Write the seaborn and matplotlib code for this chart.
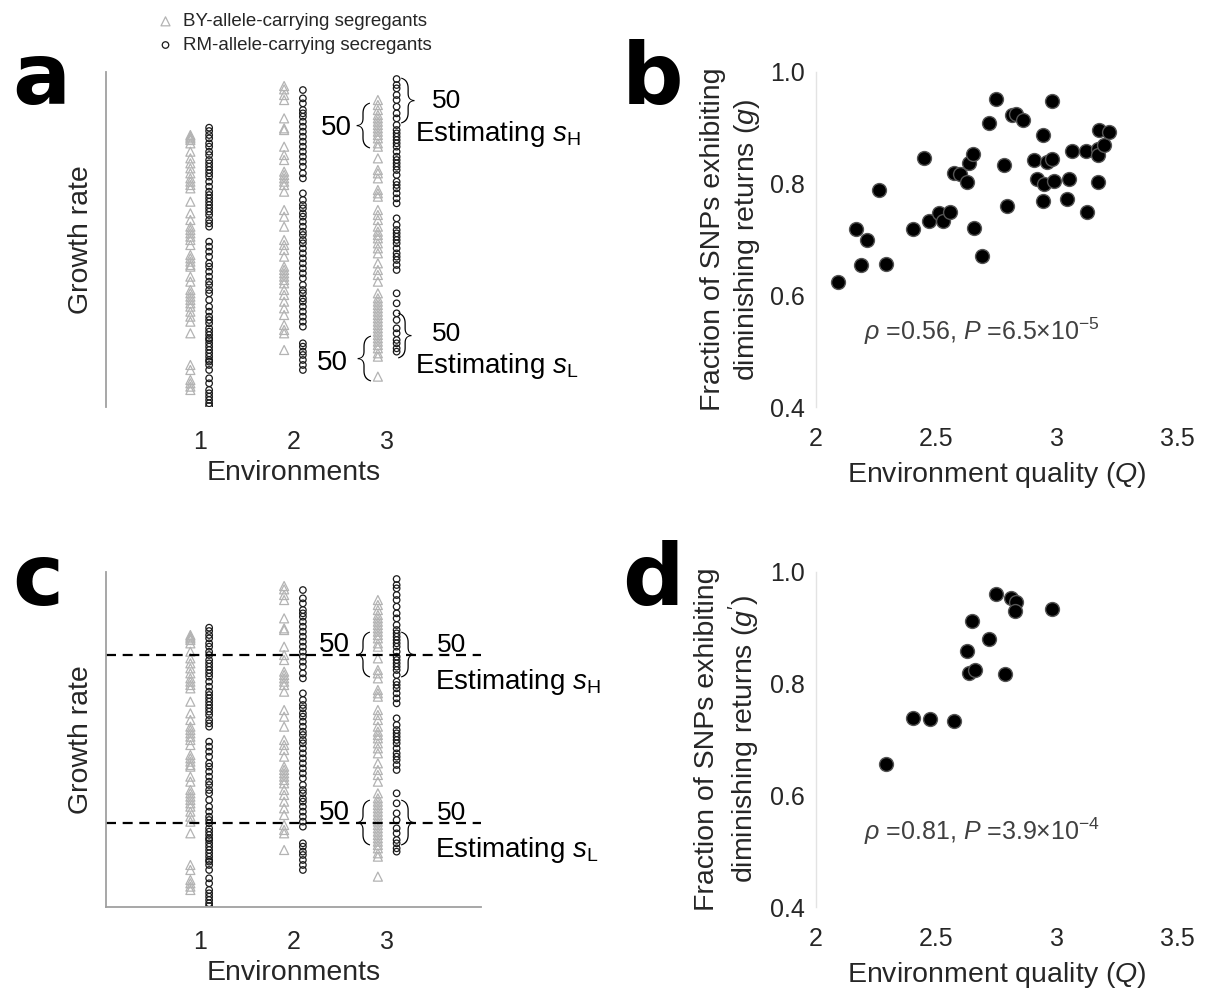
import numpy as np
import pandas as pd
import matplotlib
matplotlib.use("Agg")
import matplotlib.pyplot as plt
import seaborn as sns

sns.set_style("white")
plt.rcParams["font.family"] = ["Liberation Sans", "DejaVu Sans"]
plt.rcParams["mathtext.fontset"] = "custom"
plt.rcParams["mathtext.rm"] = "Liberation Sans"
plt.rcParams["mathtext.it"] = "Liberation Sans:italic"

# ---------------- growth rates of segregants (arbitrary units) ----------------
env1_by = [81.7, 81.2, 80.7, 80.2, 79.2, 76.7, 74.7, 73.2, 71.7, 70.2, 68.7, 67.7, 66.7,
           65.7, 61.7, 58.2, 56.2, 54.2, 53.2, 52.2, 51.2, 50.2, 48.7, 45.7, 44.7, 43.7,
           42.7, 42.2, 39.2, 37.7, 35.2, 34.2, 33.2, 32.2, 31.2, 30.2, 28.7, 27.2, 25.7,
           22.2, 12.7, 11.2, 8.2, 7.2, 6.2, 5.2]
env1_rm = [83.9, 82.9, 81.7, 80.7, 79.2, 78.2, 76.7, 75.7, 74.2, 73.2, 72.2, 71.2, 70.2,
           69.2, 67.7, 66.2, 64.7, 63.7, 62.7, 61.7, 60.7, 59.7, 58.7, 57.7, 56.2, 55.2,
           54.2, 49.7, 48.2, 46.7, 45.2, 43.2, 42.2, 40.7, 39.2, 37.7, 36.7, 35.2, 34.2,
           32.2, 30.2, 28.7, 27.2, 26.2, 25.2, 23.7, 22.7, 21.7, 20.7, 20.2, 19.2, 18.2,
           17.2, 16.2, 15.2, 14.2, 13.7, 12.7, 11.2, 8.7, 7.2, 5.2, 4.2, 3.2, 2.2, 1.2, 0.4]
env2_by = [96.4, 95.4, 93.7, 92.2, 86.7, 83.7, 83.2, 78.2, 75.7, 74.2, 70.7, 69.7, 68.7,
           67.7, 66.7, 64.7, 59.2, 57.2, 54.2, 50.2, 48.7, 47.2, 45.2, 42.2, 41.2, 40.2,
           39.2, 38.2, 37.2, 35.2, 33.7, 31.7, 29.7, 27.7, 24.7, 23.2, 22.2, 17.2]
env2_rm = [95.2, 92.7, 91.2, 89.2, 88.2, 87.2, 85.7, 84.2, 82.7, 81.2, 79.7, 78.2, 76.7,
           75.2, 73.7, 72.2, 70.2, 68.7, 64.2, 62.2, 60.7, 59.7, 58.2, 57.2, 55.7, 54.2,
           52.7, 51.7, 50.2, 49.2, 47.7, 46.2, 44.7, 43.2, 41.7, 40.2, 38.7, 36.7, 35.2,
           34.2, 32.7, 31.7, 30.2, 28.7, 27.2, 25.7, 24.2, 19.2, 18.2, 16.7, 15.7, 14.2,
           12.7, 11.2]
env3_by = [92.2, 90.7, 89.2, 87.7, 86.7, 85.7, 84.7, 83.7, 82.7, 81.7, 80.7, 79.2, 78.2,
           74.7, 71.2, 70.2, 68.7, 65.2, 64.2, 63.2, 59.2, 57.7, 56.2, 54.2, 52.7, 51.7,
           50.7, 49.2, 47.7, 46.2, 43.2, 41.2, 39.7, 37.7, 34.2, 32.7, 31.7, 30.7, 29.7,
           28.7, 27.7, 26.7, 25.7, 24.7, 23.7, 22.7, 21.7, 20.7, 19.7, 18.7, 17.7, 16.2,
           15.2, 9.2]
env3_rm = [98.5, 96.7, 95.7, 93.7, 92.2, 90.2, 88.2, 86.7, 84.7, 83.2, 82.2, 81.2, 80.2,
           79.2, 78.2, 76.7, 75.2, 74.2, 73.2, 72.2, 71.2, 69.7, 67.7, 66.7, 65.7, 64.2,
           62.7, 61.2, 56.7, 54.7, 53.2, 52.2, 51.2, 50.2, 49.2, 47.7, 46.2, 45.2, 44.2,
           42.7, 41.2, 34.2, 31.2, 28.2, 26.2, 23.7, 22.2, 20.2, 19.2, 17.7, 16.7]

environments = [1, 2, 3]
allele_labels = ["BY-allele-carrying segregants", "RM-allele-carrying secregants"]

# thresholds of the top / bottom 50 segregants (panel c)
high_cut = 75.7
low_cut = 25.3

# ---------------- environment quality vs. diminishing returns ----------------
q_all = [2.090, 2.166, 2.187, 2.213, 2.263, 2.291, 2.402, 2.449, 2.471, 2.512, 2.526,
         2.557, 2.573, 2.598, 2.626, 2.637, 2.651, 2.658, 2.690, 2.717, 2.748, 2.783,
         2.795, 2.814, 2.831, 2.859, 2.907, 2.917, 2.942, 2.945, 2.949, 2.961, 2.981,
         2.982, 2.989, 3.042, 3.053, 3.064, 3.120, 3.127, 3.170, 3.170, 3.173, 3.174,
         3.197, 3.217]
g_all = [0.624, 0.718, 0.654, 0.699, 0.788, 0.657, 0.719, 0.845, 0.733, 0.747, 0.733,
         0.750, 0.818, 0.817, 0.802, 0.836, 0.853, 0.721, 0.670, 0.909, 0.951, 0.833,
         0.759, 0.922, 0.925, 0.913, 0.842, 0.809, 0.887, 0.769, 0.799, 0.839, 0.844,
         0.947, 0.805, 0.772, 0.809, 0.859, 0.859, 0.749, 0.861, 0.851, 0.802, 0.896,
         0.869, 0.893]
q_sub = [2.291, 2.402, 2.474, 2.575, 2.626, 2.636, 2.661, 2.650, 2.717, 2.747, 2.784,
         2.812, 2.831, 2.828, 2.982]
g_sub = [0.656, 0.739, 0.737, 0.733, 0.859, 0.818, 0.825, 0.911, 0.879, 0.961, 0.817,
         0.953, 0.945, 0.930, 0.934]

stats_b = r"$\it{\rho}$ =0.56, $\it{P}$ =6.5$\times$10$^{-5}$"
stats_d = r"$\it{\rho}$ =0.81, $\it{P}$ =3.9$\times$10$^{-4}$"

# ---------------- figure ----------------
W, H = 1206, 991
fig = plt.figure(figsize=(W / 100, H / 100), dpi=100)


def px_axes(left, top, right, bottom):
    return fig.add_axes([left / W, 1 - bottom / H, (right - left) / W, (bottom - top) / H])


ax_a = px_axes(106, 71.7, 481, 407.3)
ax_c = px_axes(106, 571.7, 481, 907.3)
ax_b = px_axes(816, 71.7, 1177, 407.3)
ax_d = px_axes(816, 571.7, 1177, 907.3)

TXT = "#262626"
LAB = 20.5
TICK = 18

# long-format table of segregant growth rates
rows = []
for env, by, rm in zip(environments, [env1_by, env2_by, env3_by], [env1_rm, env2_rm, env3_rm]):
    rows += [(env - 0.1, v, "BY") for v in by]
    rows += [(env + 0.1, v, "RM") for v in rm]
seg = pd.DataFrame(rows, columns=["pos", "rate", "allele"])


def segregant_panel(ax, bottom_spine):
    by = seg[seg.allele == "BY"]
    rm = seg[seg.allele == "RM"]
    sns.scatterplot(data=by, x="pos", y="rate", marker="^", s=42, facecolor="none",
                    edgecolor="#b3b3b3", linewidth=0.9, ax=ax, label=allele_labels[0])
    sns.scatterplot(data=rm, x="pos", y="rate", marker="o", s=22, facecolor="none",
                    edgecolor="#1a1a1a", linewidth=0.9, ax=ax, label=allele_labels[1])
    ax.set_xlim(0, 4)
    ax.set_ylim(0, 100.7)
    ax.set_xticks(environments)
    ax.set_xticklabels([str(e) for e in environments], fontsize=TICK, color=TXT)
    ax.set_yticks([])
    ax.tick_params(axis="x", length=3, width=0.8, color="#c8c8c8", pad=13, direction="out")
    for s in ["top", "right"]:
        ax.spines[s].set_visible(False)
    ax.spines["left"].set_color("#a0a0a0")
    ax.spines["left"].set_linewidth(1.3)
    if bottom_spine:
        ax.spines["bottom"].set_color("#a0a0a0")
        ax.spines["bottom"].set_linewidth(1.3)
    else:
        ax.spines["bottom"].set_visible(False)
    ax.set_xlabel("Environments", fontsize=LAB, color=TXT, labelpad=5)
    ax.set_ylabel("Growth rate", fontsize=LAB, color=TXT, labelpad=9)


segregant_panel(ax_a, False)
segregant_panel(ax_c, True)

handles, labels = ax_a.get_legend_handles_labels()
ax_a.get_legend().remove()
ax_c.get_legend().remove()
fig.legend(handles, labels, loc="upper left", bbox_to_anchor=(143 / W, 1 - 0 / H),
           frameon=False, fontsize=13.5, handlelength=1.0, handletextpad=0.45,
           labelspacing=0.35, borderpad=0.2, labelcolor=TXT)


def brace(ax, x, y, ch):
    ax.text(x, y, ch, fontsize=34, ha="center", va="center", color="black",
            family=["Roboto", "Liberation Sans"], fontweight="light")


def note(ax, x, y, s, ha="left", size=20):
    ax.text(x, y, s, fontsize=size, ha=ha, va="center", color="black")


# panel a annotations
note(ax_a, 2.62, 83.8, "50", ha="right")
brace(ax_a, 2.73, 84.8, "{")
brace(ax_a, 3.22, 92.3, "}")
note(ax_a, 3.48, 92.0, "50", size=19)
note(ax_a, 3.30, 82.0, r"Estimating $\it{s}_\mathrm{H}$")
note(ax_a, 2.58, 13.3, "50", ha="right")
brace(ax_a, 2.74, 14.9, "{")
brace(ax_a, 3.19, 21.8, "}")
note(ax_a, 3.48, 22.0, "50", size=19)
note(ax_a, 3.30, 12.4, r"Estimating $\it{s}_\mathrm{L}$")

# panel c: cut-offs and annotations
for cut in (high_cut, low_cut):
    ax_c.plot([0, 4], [cut, cut], ls=(0, (4.5, 3)), color="black", lw=1.6, clip_on=False)
note(ax_c, 2.60, 78.7, "50", ha="right")
brace(ax_c, 2.73, high_cut + 0.3, "{")
brace(ax_c, 3.22, high_cut + 0.3, "}")
note(ax_c, 3.53, 78.7, "50", size=19)
note(ax_c, 3.51, 67.6, r"Estimating $\it{s}_\mathrm{H}$")
note(ax_c, 2.60, 28.3, "50", ha="right")
brace(ax_c, 2.73, low_cut + 0.3, "{")
brace(ax_c, 3.22, low_cut + 0.3, "}")
note(ax_c, 3.53, 28.3, "50", size=19)
note(ax_c, 3.51, 17.2, r"Estimating $\it{s}_\mathrm{L}$")


def quality_panel(ax, q, g, ylabel, stats):
    sns.scatterplot(x=q, y=g, s=100, color="black", edgecolor="#555555", linewidth=1.0, ax=ax)
    ax.set_xlim(2, 3.5)
    ax.set_ylim(0.4, 1.0)
    ax.set_xticks([2, 2.5, 3, 3.5])
    ax.set_xticklabels(["2", "2.5", "3", "3.5"], fontsize=TICK, color=TXT)
    ax.set_yticks([0.4, 0.6, 0.8, 1.0])
    ax.set_yticklabels(["0.4", "0.6", "0.8", "1.0"], fontsize=TICK, color=TXT)
    ax.tick_params(length=3, width=0.8, color="#c0c0c0", direction="out")
    ax.tick_params(axis="x", pad=11)
    ax.tick_params(axis="y", pad=5)
    for s in ["top", "right", "bottom"]:
        ax.spines[s].set_visible(False)
    ax.spines["left"].set_color("#e3e3e3")
    ax.spines["left"].set_linewidth(1.0)
    ax.set_xlabel(r"Environment quality ($\it{Q}$)", fontsize=LAB, color=TXT, labelpad=7)
    ax.set_ylabel(ylabel, fontsize=LAB, color=TXT, labelpad=6, linespacing=1.25)
    ax.text(2.2, 0.535, stats, fontsize=18, color="#404040", ha="left", va="center")


quality_panel(ax_b, q_all, g_all, "Fraction of SNPs exhibiting\n" + r"diminishing returns ($\it{g}$)", stats_b)
quality_panel(ax_d, q_sub, g_sub, "Fraction of SNPs exhibiting\n" + r"diminishing returns ($\it{g'}$)", stats_d)

# panel letters
for letter, x, y in [("a", 12, 104), ("b", 622, 104), ("c", 12, 605), ("d", 622, 605)]:
    fig.text(x / W, 1 - y / H, letter, fontsize=62, fontweight="bold", color="black",
             ha="left", va="baseline", family="DejaVu Sans")

fig.savefig("out.png", dpi=100)
